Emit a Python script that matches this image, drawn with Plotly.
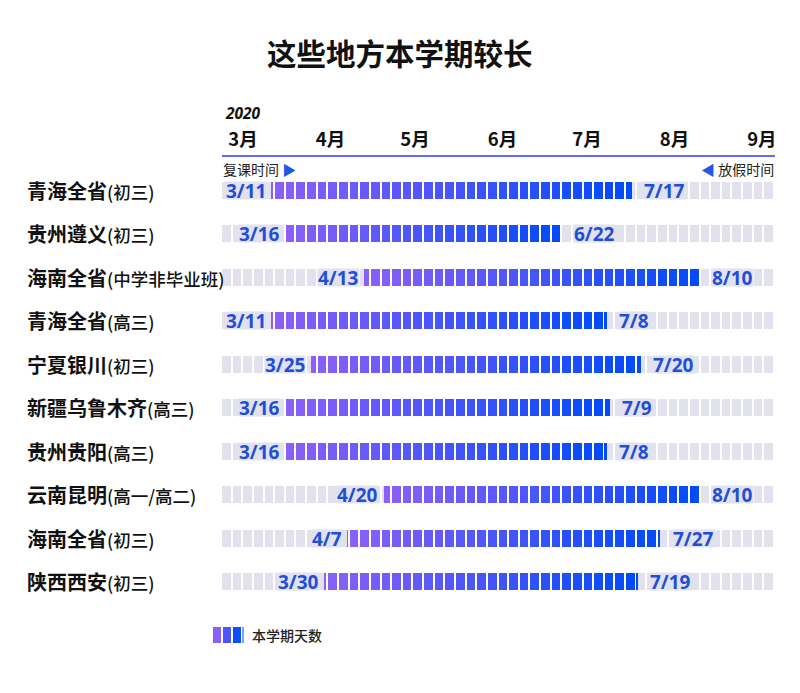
import plotly.graph_objects as go
from datetime import date

# ---------------- data ----------------
regions = ["青海全省", "贵州遵义", "海南全省", "青海全省", "宁夏银川",
           "新疆乌鲁木齐", "贵州贵阳", "云南昆明", "海南全省", "陕西西安"]
groups = ["初三", "初三", "中学非毕业班", "高三", "初三",
          "高三", "高三", "高一/高二", "初三", "初三"]
start_dates = ["2020-03-11", "2020-03-16", "2020-04-13", "2020-03-11", "2020-03-25",
               "2020-03-16", "2020-03-16", "2020-04-20", "2020-04-07", "2020-03-30"]
end_dates = ["2020-07-17", "2020-06-22", "2020-08-10", "2020-07-08", "2020-07-20",
             "2020-07-09", "2020-07-08", "2020-08-10", "2020-07-27", "2020-07-19"]
start_labels = ["3/11", "3/16", "4/13", "3/11", "3/25", "3/16", "3/16", "4/20", "4/7", "3/30"]
end_labels = ["7/17", "6/22", "8/10", "7/8", "7/20", "7/9", "7/8", "8/10", "7/27", "7/19"]
month_ticks = ["2020-03-01", "2020-04-01", "2020-05-01", "2020-06-01",
               "2020-07-01", "2020-08-01", "2020-09-01"]
month_labels = ["3月", "4月", "5月", "6月", "7月", "8月", "9月"]
year_label = "2020"
title_text = "这些地方本学期较长"
legend_text = "本学期天数"

# ---------------- helpers ----------------
ORIGIN = date(2020, 3, 1)


def day(s):
    y, m, d = map(int, s.split("-"))
    return (date(y, m, d) - ORIGIN).days


W, H = 800, 693
ML, MR, MT, MB = 222, 25, 157, 89
PW, PH = W - ML - MR, H - MT - MB
PX_PER_DAY = 2.82
X0 = -21 / PX_PER_DAY              # day value at left edge of plot
X1 = X0 + PW / PX_PER_DAY          # day value at right edge
ROW0_PX, ROW_STEP = 190, 43.55
Y_TOP = (MT - ROW0_PX) / ROW_STEP
Y_BOT = (MT + PH - ROW0_PX) / ROW_STEP


def px2paper_x(px):
    return (px - ML) / PW


def px2paper_y(py):
    return (MT + PH - py) / PH


GRAY = "#e2e1ee"
C0 = (140, 96, 248)
C1 = (0, 74, 250)
BLUE_TXT = "#1f4fd6"
CJK = "Noto Sans CJK SC"
NUM = "Open Sans, Noto Sans CJK SC"

N_CELLS = 52
PERIOD = (X1 - X0) / N_CELLS
CELL_W = PERIOD - 2.0 / PX_PER_DAY
BAR_H = 17 / ROW_STEP


def mix(t):
    r = [round(C0[i] + (C1[i] - C0[i]) * t) for i in range(3)]
    return f"rgb({r[0]},{r[1]},{r[2]})"


# background cells
bg_y, bg_base, bg_len = [], [], []
# colored cells
fg_y, fg_base, fg_len, fg_col = [], [], [], []
for i in range(len(regions)):
    s, e = day(start_dates[i]), day(end_dates[i])
    for k in range(N_CELLS):
        cs = X0 + k * PERIOD
        ce = cs + CELL_W
        bg_y.append(i)
        bg_base.append(cs)
        bg_len.append(CELL_W)
        a, b = max(cs, s), min(ce, e)
        if b - a > 0.05:
            fg_y.append(i)
            fg_base.append(a)
            fg_len.append(b - a)
            fg_col.append(mix(((a + b) / 2 - s) / (e - s)))

fig = go.Figure()
fig.add_trace(go.Bar(y=bg_y, x=bg_len, base=bg_base, orientation="h",
                     width=BAR_H, marker=dict(color=GRAY, line=dict(width=0)),
                     hoverinfo="skip", showlegend=False))
fig.add_trace(go.Bar(y=fg_y, x=fg_len, base=fg_base, orientation="h",
                     width=BAR_H, marker=dict(color=fg_col, line=dict(width=0)),
                     hoverinfo="skip", showlegend=False))

ann = []
for i in range(len(regions)):
    s, e = day(start_dates[i]), day(end_dates[i])
    ann.append(dict(x=s - 1.6, y=i, xref="x", yref="y", text=start_labels[i],
                    xanchor="right", yanchor="middle", showarrow=False,
                    bgcolor=GRAY, borderpad=0, height=17,
                    font=dict(family=NUM, size=19, color=BLUE_TXT, weight="bold")))
    ann.append(dict(x=e + 4.0, y=i, xref="x", yref="y", text=end_labels[i],
                    xanchor="left", yanchor="middle", showarrow=False,
                    bgcolor=GRAY, borderpad=0, height=17,
                    font=dict(family=NUM, size=19, color=BLUE_TXT, weight="bold")))
    ann.append(dict(x=px2paper_x(25), y=i, xref="paper", yref="y",
                    text=(f"{regions[i]}<span style='font-size:17.5px;font-weight:500'>"
                          f"({groups[i]})</span>"),
                    xanchor="left", yanchor="middle", showarrow=False,
                    font=dict(family=CJK, size=20, color="#111111", weight="bold")))

ann.append(dict(x=px2paper_x(400), y=px2paper_y(52), xref="paper", yref="paper", text=title_text,
                xanchor="center", yanchor="middle", showarrow=False,
                font=dict(family=CJK, size=29.5, color="#111111", weight="bold")))
ann.append(dict(x=px2paper_x(224), y=px2paper_y(113), xref="paper", yref="paper",
                text=f"<i>{year_label}</i>", xanchor="left", yanchor="middle", showarrow=False,
                borderpad=0, height=16,
                font=dict(family="Open Sans", size=15.5, color="#111111", weight="bold")))
ann.append(dict(x=px2paper_x(221), y=px2paper_y(169), xref="paper", yref="paper",
                text="复课时间 <span style='color:#1f57e6'>▶</span>",
                xanchor="left", yanchor="middle", showarrow=False,
                font=dict(family=CJK, size=14, color="#222222")))
ann.append(dict(x=px2paper_x(776), y=px2paper_y(169), xref="paper", yref="paper",
                text="<span style='color:#1f57e6'>◀</span> 放假时间",
                xanchor="right", yanchor="middle", showarrow=False,
                font=dict(family=CJK, size=14, color="#222222")))
ann.append(dict(x=px2paper_x(250), y=px2paper_y(635), xref="paper", yref="paper",
                text=legend_text, xanchor="left", yanchor="middle", showarrow=False,
                font=dict(family=CJK, size=14, color="#222222", weight=500)))

shapes = []
legend_cells = [(213, 221, 0.0), (223, 231, 0.45), (233, 241, 0.9), (242.5, 243.5, 1.0)]
for a, b, t in legend_cells:
    shapes.append(dict(type="rect", xref="paper", yref="paper",
                       x0=px2paper_x(a), x1=px2paper_x(b),
                       y0=px2paper_y(643), y1=px2paper_y(627),
                       fillcolor=mix(t), line=dict(width=0)))

fig.update_layout(
    width=W, height=H,
    margin=dict(l=ML, r=MR, t=MT, b=MB, pad=0),
    paper_bgcolor="white", plot_bgcolor="white",
    barmode="overlay", bargap=0,
    annotations=ann, shapes=shapes,
    xaxis=dict(range=[X0, X1], side="top", tickmode="array",
               tickvals=[day(m) for m in month_ticks], ticktext=month_labels,
               showgrid=False, zeroline=False, showline=True,
               linecolor="#5f6cf0", linewidth=1.5, ticks="",
               ticklabelstandoff=2,
               tickfont=dict(family=CJK, size=18.5, color="#111111", weight="bold")),
    yaxis=dict(range=[Y_BOT, Y_TOP], showticklabels=False, showgrid=False,
               zeroline=False, showline=False, ticks=""),
)

fig.write_html("out.html")
